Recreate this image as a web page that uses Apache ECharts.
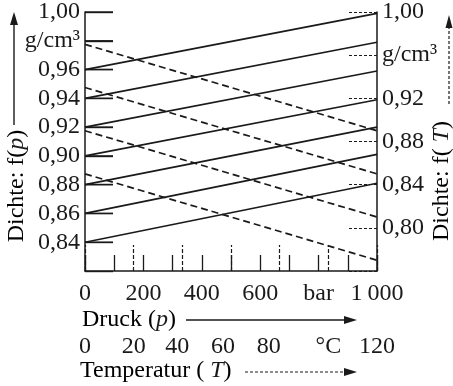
<!DOCTYPE html>
<html><head><meta charset="utf-8">
<script src="https://cdn.jsdelivr.net/npm/echarts@6/dist/echarts.min.js"></script>
<style>html,body{margin:0;padding:0;background:#fff}#c{width:453px;height:386px}</style>
</head><body><div id="c"></div>
<script>
// ---- data ----
const pressureRange = [0, 1000];          // bar
const temperatureRange = [0, 120];        // °C
// density vs pressure (solid lines, left axis), g/cm³ at 0 bar and at 1000 bar
const pressureLineStart = [0.960, 0.940, 0.920, 0.900, 0.880, 0.860, 0.840];
const pressureLineEnd   = [0.999, 0.979, 0.959, 0.939, 0.920, 0.901, 0.881];
// density vs temperature (dashed lines, right axis), g/cm³ at 0 °C and at 120 °C
const tempLineStart = [0.970, 0.930, 0.890, 0.850];
const tempLineEnd   = [0.890, 0.850, 0.810, 0.770];
// tick values / labels
const leftTickValues = [0.84, 0.86, 0.88, 0.90, 0.92, 0.94, 0.96, 0.98, 1.00];
const pressureTickLabels = ['0', '', '200', '', '400', '', '600', '', 'bar', '', '1\u2009000'];
const tempTickLabels = ['0', '20', '40', '60', '80', '°C', '120'];
const leftTickLabels = ['', '0,84', '0,86', '0,88', '0,90', '0,92', '0,94', '0,96', 'g/cm³', '1,00'];
const rightTickLabels = ['', '0,80', '0,84', '0,88', '0,92', 'g/cm³', '1,00'];

// ---- chart ----
// density axes are run in hundredths of g/cm³ so that tick steps are whole numbers
const K = 100;
const FONT = '"Liberation Serif", "DejaVu Serif", serif';
const FS = 24;
const INK = '#1a1a1a';
const TICK_LEN = 28;
const tempLabelShift = [0, 0, 5, 8, 11, 0, 0]; // px shift to the left (layout of reference)

const chart = echarts.init(document.getElementById('c'), null, {renderer: 'canvas'});
const series = [];
pressureLineStart.forEach((s, i) => {
  series.push({type: 'line', xAxisIndex: 0, yAxisIndex: 1, showSymbol: false, silent: true,
    lineStyle: {color: INK, width: 1.7},
    data: [[pressureRange[0], s * K], [pressureRange[1], pressureLineEnd[i] * K]]});
});
tempLineStart.forEach((s, i) => {
  series.push({type: 'line', xAxisIndex: 1, yAxisIndex: 0, showSymbol: false, silent: true,
    lineStyle: {color: INK, width: 1.7, type: [7, 4]},
    data: [[temperatureRange[0], s * K], [temperatureRange[1], tempLineEnd[i] * K]]});
});
// inward tick marks of the left density axis, placed through the axis scale
series.push({type: 'custom', xAxisIndex: 0, yAxisIndex: 1, silent: true, clip: false, z: 10,
  data: leftTickValues.map(v => [pressureRange[0], v * K]),
  renderItem: (params, api) => {
    const p = api.coord([api.value(0), api.value(1)]);
    return {type: 'line', shape: {x1: p[0], y1: p[1], x2: p[0] + TICK_LEN, y2: p[1]},
      style: {stroke: INK, lineWidth: 1.4, fill: null}};
  }});

const rich = {};
tempLabelShift.forEach((d, i) => {
  rich['t' + i] = {fontFamily: FONT, fontSize: FS, color: INK, padding: [0, 2 * d, 0, 0]};
});
const txt = {fontFamily: FONT, fontSize: FS, color: INK};
const ital = {i: {fontFamily: FONT, fontSize: FS, fontStyle: 'italic', fill: INK}};
chart.setOption({
  animation: false,
  backgroundColor: '#fff',
  grid: {left: 85, right: 76, top: 10, bottom: 115, containLabel: false},
  xAxis: [
    {type: 'value', min: pressureRange[0], max: pressureRange[1], interval: 100, position: 'bottom',
     axisLine: {show: true, onZero: false, lineStyle: {color: INK, width: 1.5}},
     axisTick: {show: true, inside: true, length: 16, lineStyle: {color: INK, width: 1.3}},
     splitLine: {show: false},
     axisLabel: {show: true, margin: 11, ...txt, showMinLabel: true, showMaxLabel: true, hideOverlap: false,
       formatter: v => pressureTickLabels[Math.round(v / 100)] || ''}},
    {type: 'value', min: temperatureRange[0], max: temperatureRange[1], interval: 20, position: 'bottom',
     axisLine: {show: false, onZero: false},
     axisTick: {show: true, inside: true, length: 26, lineStyle: {color: INK, width: 1.2, type: [4, 2]}},
     splitLine: {show: false},
     axisLabel: {show: true, margin: 64, ...txt, rich: rich, showMinLabel: true, showMaxLabel: true, hideOverlap: false,
       formatter: v => { const i = Math.round(v / 20); return '{t' + i + '|' + tempTickLabels[i] + '}'; }}}
  ],
  yAxis: [
    {type: 'value', min: 76, max: 100, interval: 4, position: 'right',
     axisLine: {show: true, onZero: false, lineStyle: {color: INK, width: 1.5}},
     axisTick: {show: true, inside: true, length: 28, lineStyle: {color: INK, width: 1.2, type: [3, 2]}},
     splitLine: {show: false},
     axisLabel: {show: true, margin: 5, ...txt, showMinLabel: true, showMaxLabel: true, hideOverlap: false,
       formatter: v => rightTickLabels[Math.round((v - 76) / 4)] || ''}},
    {type: 'value', min: 82, max: 100, interval: 2, position: 'left',
     axisLine: {show: true, onZero: false, lineStyle: {color: INK, width: 1.5}},
     axisTick: {show: true, inside: true, length: 28, lineStyle: {color: INK, width: 1.4}},
     splitLine: {show: false},
     axisLabel: {show: true, margin: 5, ...txt, showMinLabel: true, showMaxLabel: true, hideOverlap: false,
       formatter: v => leftTickLabels[Math.round((v - 82) / 2)] || ''}}
  ],
  series: series,
  graphic: [
    // left axis name and arrow
    {type: 'text', x: 17, y: 186, rotation: Math.PI / 2,
     style: {text: 'Dichte: f({i|p})', align: 'center', verticalAlign: 'middle', ...txt, rich: ital}},
    {type: 'line', shape: {x1: 14, y1: 125, x2: 14, y2: 22}, style: {stroke: INK, lineWidth: 1.4}},
    {type: 'polygon', shape: {points: [[14, 12], [10, 25], [18, 25]]}, style: {fill: INK}},
    // right axis name and dashed arrow
    {type: 'text', x: 442, y: 181, rotation: Math.PI / 2,
     style: {text: 'Dichte: f( {i|T})', align: 'center', verticalAlign: 'middle', ...txt, rich: ital}},
    {type: 'line', shape: {x1: 449, y1: 104, x2: 449, y2: 26}, style: {stroke: INK, lineWidth: 1.2, lineDash: [3, 2]}},
    {type: 'polygon', shape: {points: [[449, 15], [445.5, 28], [452.5, 28]]}, style: {fill: INK}},
    // bottom names and arrows
    {type: 'text', x: 82, y: 320,
     style: {text: 'Druck ({i|p})', align: 'left', verticalAlign: 'middle', ...txt, rich: ital}},
    {type: 'line', shape: {x1: 186, y1: 320, x2: 346, y2: 320}, style: {stroke: INK, lineWidth: 1.4}},
    {type: 'polygon', shape: {points: [[357, 320], [344, 316], [344, 324]]}, style: {fill: INK}},
    {type: 'text', x: 80, y: 371,
     style: {text: 'Temperatur ( {i|T})', align: 'left', verticalAlign: 'middle', ...txt, rich: ital}},
    {type: 'line', shape: {x1: 245, y1: 372, x2: 346, y2: 372}, style: {stroke: INK, lineWidth: 1.2, lineDash: [3, 2]}},
    {type: 'polygon', shape: {points: [[357, 372], [344, 368], [344, 376]]}, style: {fill: INK}}
  ]
});
</script>
</body></html>
